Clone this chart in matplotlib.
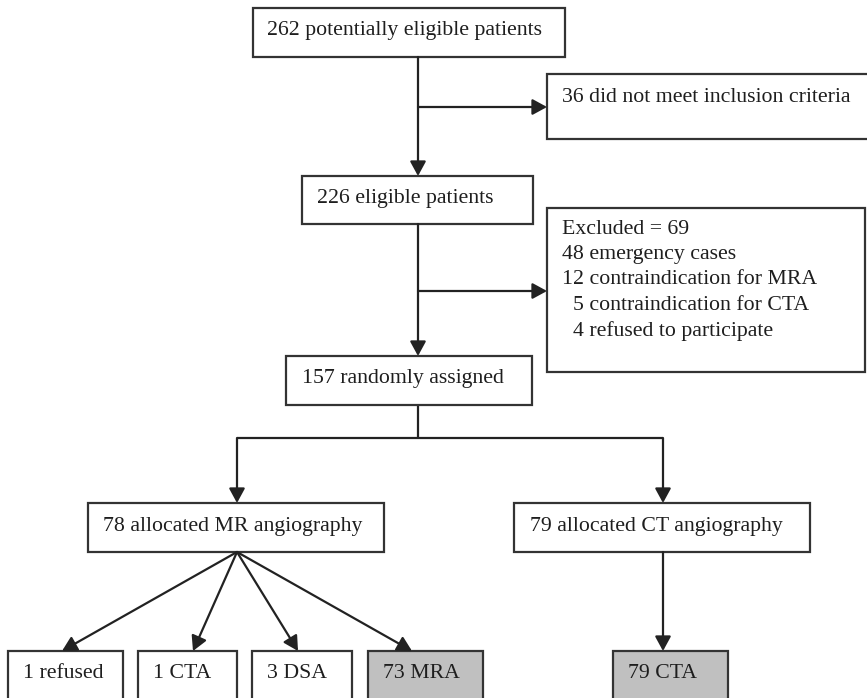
import matplotlib
matplotlib.use("Agg")
import matplotlib.pyplot as plt
from matplotlib.patches import Rectangle

# ---- data (flow counts and labels) ----
screened = 262
not_meeting = 36
eligible = 226
excluded_total = 69
excluded_reasons = [48, 12, 5, 4]
excluded_labels = ["emergency cases", "contraindication for MRA",
                   "contraindication for CTA", "refused to participate"]
randomized = 157
arm_counts = [78, 79]
arm_labels = ["allocated MR angiography", "allocated CT angiography"]
mr_outcomes = [1, 1, 3, 73]
mr_outcome_labels = ["refused", "CTA", "DSA", "MRA"]
ct_outcomes = [79]
ct_outcome_labels = ["CTA"]

# ---- layout (pixels, y downward) ----
W, H = 867, 698
fig = plt.figure(figsize=(W / 100, H / 100), dpi=100)
ax = fig.add_axes([0, 0, 1, 1])
ax.set_xlim(0, W)
ax.set_ylim(H, 0)
ax.axis("off")

EDGE = "#333333"
TXT = "#1e1e1e"
GRAY = "#c0c0c0"
FS = 15.7
FONT = "Liberation Serif"
LW = 1.6


def box(x0, y0, x1, y1, fill="white"):
    ax.add_patch(Rectangle((x0, y0), x1 - x0, y1 - y0, facecolor=fill,
                           edgecolor=EDGE, lw=LW, zorder=2))


def text(x, y, s):
    ax.text(x, y, s, ha="left", va="center", fontsize=FS, family=FONT,
            color=TXT, zorder=3)


def arrow(x0, y0, x1, y1):
    ax.annotate("", xy=(x1, y1), xytext=(x0, y0),
                arrowprops=dict(arrowstyle="-|>,head_length=0.55,head_width=0.3",
                                color="#222222", lw=LW, shrinkA=0, shrinkB=0,
                                mutation_scale=16), zorder=4)


def line(xs, ys):
    ax.plot(xs, ys, color="#222222", lw=LW, solid_capstyle="butt", zorder=1)


# top box
box(253, 8, 565, 57)
text(267, 31, f"{screened} potentially eligible patients")
# not meeting criteria
box(547, 74, 875, 139)
text(562, 97, f"{not_meeting} did not meet inclusion criteria")
# eligible
box(302, 176, 533, 224)
text(317, 198, f"{eligible} eligible patients")
# excluded
box(547, 208, 865, 372)
exc_lines = [f"Excluded = {excluded_total}"] + [
    f"{'  ' if n < 10 else ''}{n} {lab}" for n, lab in zip(excluded_reasons, excluded_labels)]
for i, s in enumerate(exc_lines):
    text(562, 229 + i * 25.5, s)
# randomized
box(286, 356, 532, 405)
text(302, 378, f"{randomized} randomly assigned")
# arms
arm_boxes = [(88, 503, 384, 552), (514, 503, 810, 552)]
arm_text_x = [103, 530]
for (x0, y0, x1, y1), tx, n, lab in zip(arm_boxes, arm_text_x, arm_counts, arm_labels):
    box(x0, y0, x1, y1)
    text(tx, 526, f"{n} {lab}")

# outcome boxes
out_boxes = [(8, 123), (138, 237), (252, 352), (368, 483)]
out_text_x = [23, 153, 267, 383]
out_fill = ["white", "white", "white", GRAY]
for (x0, x1), tx, n, lab, fc in zip(out_boxes, out_text_x, mr_outcomes, mr_outcome_labels, out_fill):
    box(x0, 651, x1, 720, fill=fc)
    text(tx, 673, f"{n} {lab}")
box(613, 651, 728, 720, fill=GRAY)
text(628, 673, f"{ct_outcomes[0]} {ct_outcome_labels[0]}")

# connectors
arrow(418, 57, 418, 176)
arrow(418, 107, 547, 107)
arrow(418, 224, 418, 356)
arrow(418, 291, 547, 291)
line([418, 418], [405, 438])
line([237, 663], [438, 438])
arrow(237, 438, 237, 503)
arrow(663, 438, 663, 503)
for tip in [62, 193, 298, 412]:
    arrow(237, 552, tip, 651)
arrow(663, 552, 663, 651)

fig.savefig("out.png", dpi=100)
